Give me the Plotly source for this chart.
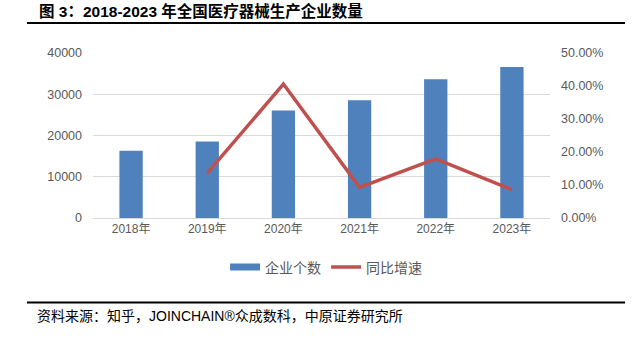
import plotly.graph_objects as go

# Number of medical device manufacturers in China, 2018-2023
years = ["2018年", "2019年", "2020年", "2021年", "2022年", "2023年"]
companies = [16300, 18550, 26050, 28570, 33650, 36630]
# Year-on-year growth (no value for the first year)
growth_years = ["2019年", "2020年", "2021年", "2022年", "2023年"]
growth = [0.136, 0.406, 0.093, 0.179, 0.086]

W, H = 636, 337
L, R, T, B = 93, 86, 53, 119

CJK = "Liberation Sans, Noto Sans CJK SC, sans-serif"
GRAY = "#595959"
BAR = "#4F81BD"
LINE = "#C0504D"

fig = go.Figure()
fig.add_trace(go.Bar(
    x=years, y=companies, name="企业个数", showlegend=False,
    marker=dict(color=BAR, line=dict(width=0)),
    width=0.306,
))
# legend key for the bars, drawn as a wide flat swatch
fig.add_trace(go.Scatter(
    x=[None], y=[None], name="企业个数", mode="lines",
    line=dict(color=BAR, width=7),
))
fig.add_trace(go.Scatter(
    x=growth_years, y=growth, name="同比增速", yaxis="y2",
    mode="lines", line=dict(color=LINE, width=3.5),
))

fig.update_layout(
    width=W, height=H,
    margin=dict(l=L, r=R, t=T, b=B),
    paper_bgcolor="white", plot_bgcolor="white",
    font=dict(family=CJK, color=GRAY, size=12),
    showlegend=True,
    legend=dict(
        orientation="h", x=0.51, xanchor="center", y=-0.3, yanchor="middle",
        font=dict(size=14, color=GRAY), itemwidth=30, traceorder="normal",
    ),
    bargap=0.694,
    xaxis=dict(
        showgrid=False, showline=True, linecolor="#D9D9D9", linewidth=1,
        ticks="", tickfont=dict(size=12, color=GRAY),
    ),
    yaxis=dict(
        range=[0, 40000], dtick=10000, tickformat="d",
        showgrid=True, gridcolor="#D9D9D9",
        gridwidth=1, zeroline=False, ticks="", tickfont=dict(size=12.5, color=GRAY),
        ticklabelstandoff=10,
    ),
    yaxis2=dict(
        range=[0, 0.5], dtick=0.1, overlaying="y", side="right",
        showgrid=False, zeroline=False, tickformat=".2%",
        tickfont=dict(size=12.5, color=GRAY), ticklabelstandoff=10,
    ),
    shapes=[
        dict(type="line", xref="paper", yref="paper",
             x0=(27 - L) / (W - L - R), x1=(625 - L) / (W - L - R),
             y0=(H - B - 23) / (H - T - B), y1=(H - B - 23) / (H - T - B),
             line=dict(color="black", width=2)),
        dict(type="line", xref="paper", yref="paper",
             x0=(27 - L) / (W - L - R), x1=(625 - L) / (W - L - R),
             y0=(H - B - 302.5) / (H - T - B), y1=(H - B - 302.5) / (H - T - B),
             line=dict(color="black", width=2)),
    ],
    annotations=[
        dict(text="<b>图 3：2018-2023 年全国医疗器械生产企业数量</b>",
             xref="paper", yref="paper", showarrow=False,
             x=(37 - L) / (W - L - R), xanchor="left",
             y=(H - B - 11) / (H - T - B), yanchor="middle",
             font=dict(size=15.5, color="black", family=CJK)),
        dict(text="资料来源：知乎，JOINCHAIN®众成数科，中原证券研究所",
             xref="paper", yref="paper", showarrow=False,
             x=(35 - L) / (W - L - R), xanchor="left",
             y=(H - B - 316) / (H - T - B), yanchor="middle",
             font=dict(size=14, color="black", family=CJK)),
    ],
)

fig.write_html("out.html")
